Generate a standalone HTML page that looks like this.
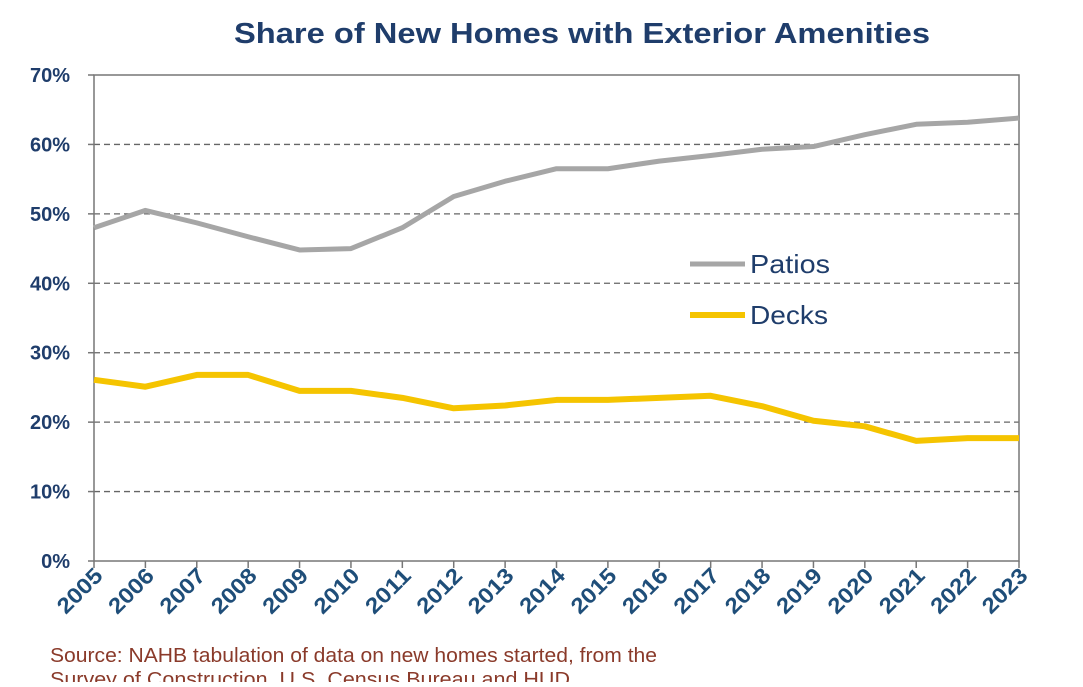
<!DOCTYPE html>
<html><head><meta charset="utf-8"><style>
body{margin:0;background:#fff;width:1083px;height:682px;overflow:hidden;font-family:"Liberation Sans",Arial,sans-serif}
</style></head><body>
<svg id="chart" width="1083" height="682">
<text x="234" y="43" font-size="29" font-weight="bold" fill="#1f3d6b" textLength="696" lengthAdjust="spacingAndGlyphs">Share of New Homes with Exterior Amenities</text>
<g id="grid"></g><g id="axes"></g><g id="series"></g>
<g>
<line x1="690" y1="264" x2="745" y2="264" stroke="#a6a6a6" stroke-width="5"/>
<text x="750" y="273" font-size="26" fill="#1f3d6b" textLength="80" lengthAdjust="spacingAndGlyphs">Patios</text>
<line x1="690" y1="315" x2="745" y2="315" stroke="#f5c400" stroke-width="6"/>
<text x="750" y="324" font-size="26" fill="#1f3d6b" textLength="78" lengthAdjust="spacingAndGlyphs">Decks</text>
</g>
<text x="50" y="662" font-size="20" fill="#8a3a2a" textLength="607" lengthAdjust="spacingAndGlyphs">Source: NAHB tabulation of data on new homes started, from the</text>
<text x="50" y="686" font-size="20" fill="#8a3a2a" textLength="520" lengthAdjust="spacingAndGlyphs">Survey of Construction, U.S. Census Bureau and HUD</text>
</svg>
<script>
const years=[2005,2006,2007,2008,2009,2010,2011,2012,2013,2014,2015,2016,2017,2018,2019,2020,2021,2022,2023];
const patios=[48,50.5,48.7,46.7,44.8,45,48,52.5,54.7,56.5,56.5,57.6,58.4,59.3,59.7,61.4,62.9,63.2,63.8];
const decks=[26.1,25.1,26.8,26.8,24.5,24.5,23.5,22.0,22.4,23.2,23.2,23.5,23.8,22.3,20.2,19.4,17.3,17.7,17.7];
const yTicks=[0,10,20,30,40,50,60,70];
const NS="http://www.w3.org/2000/svg";
const X0=94,X1=1019,Y0=561,Y1=75;
const x=i=>X0+(X1-X0)*i/(years.length-1);
const y=v=>Y0-(Y0-Y1)*v/70;
function mk(t,a,p){const e=document.createElementNS(NS,t);for(const k in a)e.setAttribute(k,a[k]);document.getElementById(p).appendChild(e);return e;}
yTicks.forEach(v=>{
 if(v>0&&v<70){const l=mk('line',{x1:X0,x2:X1,y1:y(v),y2:y(v),stroke:'#666','stroke-dasharray':'6,4','stroke-width':1.3},'grid');
 
 }
 const t=mk('text',{x:70,y:y(v)+7,'text-anchor':'end','font-size':20,'font-weight':'bold',fill:'#1f3d6b'},'axes');t.textContent=v+'%';
 
 
 const tk=mk('line',{x1:X0-6,x2:X0,y1:y(v),y2:y(v),stroke:'#777','stroke-width':1.5},'axes');
 
 
});
const frame=mk('rect',{x:X0,y:Y1,width:X1-X0,height:Y0-Y1,fill:'none',stroke:'#777','stroke-width':1.5},'axes');


years.forEach((yr,i)=>{
 const tk=mk('line',{x1:x(i),x2:x(i),y1:Y0,y2:Y0+7,stroke:'#777','stroke-width':1.5},'axes');
 
 
 const ax=x(i)+10,ay=Y0+16;
 const t=mk('text',{x:ax,y:ay,'text-anchor':'end','font-size':22,'font-weight':'bold',fill:'#1f4e79',textLength:54,lengthAdjust:'spacingAndGlyphs',transform:`rotate(-45 ${ax} ${ay})`},'axes');
 t.textContent=yr;
 
 
});
function line(d,c,w,n){const p=mk('polyline',{points:d.map((v,i)=>x(i)+','+y(v)).join(' '),fill:'none',stroke:c,'stroke-width':w,'stroke-linejoin':'round'},'series');
 
 }
line(patios,'#a6a6a6',5,'patios-line');
line(decks,'#f5c400',6,'decks-line');
</script>
</body></html>
